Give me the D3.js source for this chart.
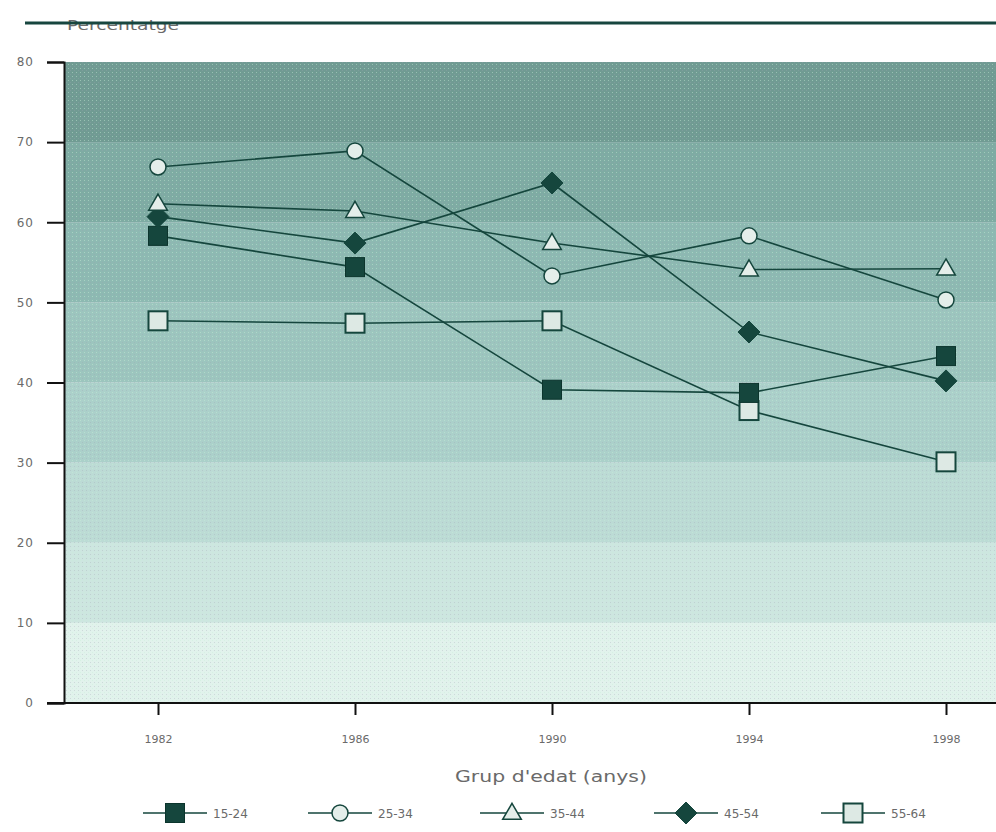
<!DOCTYPE html>
<html><head><meta charset="utf-8">
<script src="https://cdn.jsdelivr.net/npm/d3@7"></script>
<style>body{margin:0;background:#fff}svg{display:block}text{font-family:"DejaVu Sans",Arial,sans-serif}</style>
</head><body>
<svg id="c" width="996" height="832"></svg>
<script>
const years = ["1982","1986","1990","1994","1998"];
const seriesNames = ["15-24","25-34","35-44","45-54","55-64"];
const s1524 = [58.3, 54.4, 39.1, 38.7, 43.3];
const s2534 = [66.9, 68.9, 53.3, 58.3, 50.3];
const s3544 = [62.3, 61.4, 57.4, 54.1, 54.2];
const s4554 = [60.7, 57.4, 64.9, 46.3, 40.2];
const s5564 = [47.7, 47.4, 47.7, 36.5, 30.1];
const yTicks = [0,10,20,30,40,50,60,70,80];
const bandColors = ["#e1f2ec","#cde6e0","#bcdbd5","#abd0ca","#9cc5be","#8db9b2","#7eaba3","#709b93"];

const svg = d3.select("#c");
const dark = "#15463d";
const grey = "#6a6a6a";
const FONT = "DejaVu Sans, Arial, sans-serif";
const x = d3.scalePoint().domain(years).range([158, 946]);
const y = d3.scaleLinear().domain([0, 80]).range([703, 62]);

// textured pattern
const defs = svg.append("defs");
const pat = defs.append("pattern").attr("id","dots").attr("width",4).attr("height",4).attr("patternUnits","userSpaceOnUse");
pat.append("rect").attr("x",0).attr("y",0).attr("width",1).attr("height",1).attr("fill","#c8f0d8").attr("opacity",0.45);
pat.append("rect").attr("x",2).attr("y",2).attr("width",1).attr("height",1).attr("fill","#a0a0b0").attr("opacity",0.3);

// background bands
const bands = d3.range(8).map(i => [i*10, i*10+10]);
svg.selectAll("rect.band").data(bands).join("rect")
  .attr("class","band")
  .attr("x", 64).attr("width", 996-64)
  .attr("y", d => y(d[1])).attr("height", d => y(d[0]) - y(d[1]))
  .attr("fill", (d,i) => bandColors[i]);
svg.append("rect").attr("x",64).attr("y",y(80)).attr("width",996-64).attr("height",y(0)-y(80)).attr("fill","url(#dots)");

// top rule + label
svg.append("text").attr("x",67).attr("y",30).attr("font-size",14).attr("fill",grey)
  .attr("textLength",112).attr("lengthAdjust","spacingAndGlyphs").text("Percentatge");
svg.append("line").attr("x1",25).attr("x2",996).attr("y1",23).attr("y2",23).attr("stroke","#17463f").attr("stroke-width",3);

// axes
const yAxis = d3.axisLeft(y).tickValues(yTicks).tickSize(17).tickPadding(13);
const gy = svg.append("g").attr("transform","translate(64,0)").call(yAxis);
gy.select(".domain").attr("stroke","#111").attr("stroke-width",2);
gy.selectAll(".tick line").attr("stroke","#111").attr("stroke-width",2);
gy.selectAll(".tick text").attr("font-size",12).attr("fill",grey).attr("letter-spacing",1).attr("font-family",FONT);

svg.append("line").attr("x1",47).attr("x2",996).attr("y1",703).attr("y2",703).attr("stroke","#111").attr("stroke-width",2);
const xAxis = d3.axisBottom(x).tickSize(12).tickPadding(20);
const gx = svg.append("g").attr("transform","translate(0,703)").call(xAxis);
gx.select(".domain").remove();
gx.selectAll(".tick line").attr("stroke","#111").attr("stroke-width",2);
gx.selectAll(".tick text").attr("font-size",11).attr("fill",grey).attr("font-family",FONT);

svg.append("text").attr("x",455).attr("y",782).attr("font-size",15).attr("fill",grey)
  .attr("textLength",192).attr("lengthAdjust","spacingAndGlyphs").text("Grup d'edat (anys)");

// series
const data = [s1524, s2534, s3544, s4554, s5564];
const shapes = ["sqDark","circle","triangle","diamond","sqLight"];
function drawMarker(g, shape, cx, cy) {
  if (shape === "sqDark") {
    const s = 19;
    g.append("rect").attr("x",cx-s/2).attr("y",cy-s/2).attr("width",s).attr("height",s).attr("fill",dark).attr("stroke","#0c352d").attr("stroke-width",1);
  } else if (shape === "sqLight") {
    const s = 19;
    g.append("rect").attr("x",cx-s/2).attr("y",cy-s/2).attr("width",s).attr("height",s).attr("fill","#dde9e4").attr("stroke",dark).attr("stroke-width",2);
  } else if (shape === "circle") {
    g.append("circle").attr("cx",cx).attr("cy",cy).attr("r",8).attr("fill","#e4eeea").attr("stroke",dark).attr("stroke-width",1.5);
  } else if (shape === "triangle") {
    g.append("path").attr("d", d3.symbol().type(d3.symbolTriangle).size(150)()).attr("transform",`translate(${cx},${cy+1})`).attr("fill","#e4eeea").attr("stroke",dark).attr("stroke-width",1.5);
  } else if (shape === "diamond") {
    const r = 11;
    g.append("path").attr("d",`M${cx},${cy-r}L${cx+r},${cy}L${cx},${cy+r}L${cx-r},${cy}Z`).attr("fill",dark).attr("stroke",dark).attr("stroke-width",1);
  }
}
const line = d3.line().x((d,i) => x(years[i])).y(d => y(d));
const order = [4,0,3,2,1];
order.forEach(k => {
  const g = svg.append("g");
  g.append("path").datum(data[k]).attr("d", line).attr("fill","none").attr("stroke",dark).attr("stroke-width",1.6);
  data[k].forEach((v,i) => drawMarker(g, shapes[k], x(years[i]), y(v)));
});

// legend
const legX = [175, 340, 512, 686, 853];
seriesNames.forEach((n,k) => {
  const g = svg.append("g");
  const cx = legX[k], cy = 813;
  g.append("line").attr("x1",cx-32).attr("x2",cx+32).attr("y1",cy).attr("y2",cy).attr("stroke",dark).attr("stroke-width",1.6);
  drawMarker(g, shapes[k], cx, cy);
  g.append("text").attr("x",cx+38).attr("y",cy+5).attr("font-size",12).attr("fill",grey).text(n);
});
</script>
</body></html>
